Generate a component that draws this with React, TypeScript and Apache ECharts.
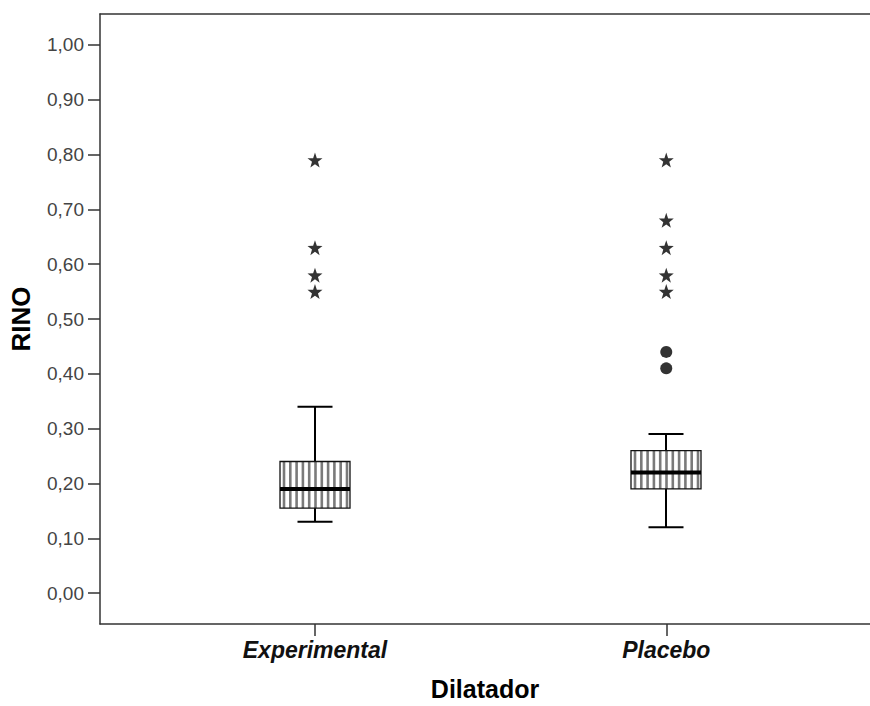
import React, { useEffect, useRef } from "react";
import * as echarts from "echarts";

const categories = ["Experimental", "Placebo"];
const categoryPositions = [1, 2];
// [low whisker, Q1, median, Q3, high whisker]
const boxValues = [
  [0.13, 0.155, 0.19, 0.24, 0.34],
  [0.12, 0.19, 0.22, 0.26, 0.29],
];
const extremeExperimental = [0.79, 0.63, 0.58, 0.55];
const extremePlacebo = [0.79, 0.68, 0.63, 0.58, 0.55];
const outliersPlacebo = [0.44, 0.41];
const yTicks = [0, 0.1, 0.2, 0.3, 0.4, 0.5, 0.6, 0.7, 0.8, 0.9, 1.0];

const STAR =
  "path://M50 0 L61.76 33.82 L97.55 34.55 L69.02 56.18 L79.39 90.45 L50 70 L20.61 90.45 L30.98 56.18 L2.45 34.55 L38.24 33.82 Z";

const FONT = "'Liberation Sans', Arial, sans-serif";

export default function App() {
  const ref = useRef<HTMLDivElement>(null);
  useEffect(() => {
    if (!ref.current) return;
    const chart = echarts.init(ref.current, undefined, { renderer: "svg" });

    const boxData = boxValues.map((b, i) => [categoryPositions[i], ...b]);

    const renderItem = (params: any, api: any) => {
      const x = api.value(0);
      const low = api.coord([x, api.value(1)]);
      const q1 = api.coord([x, api.value(2)]);
      const med = api.coord([x, api.value(3)]);
      const q3 = api.coord([x, api.value(4)]);
      const high = api.coord([x, api.value(5)]);
      const cx = Math.round(low[0]);
      const halfBox = 35;
      const halfCap = 17.5;
      const children: any[] = [];
      children.push({
        type: "line",
        shape: { x1: cx, y1: high[1], x2: cx, y2: q3[1] },
        style: { stroke: "#000", lineWidth: 2 },
      });
      children.push({
        type: "line",
        shape: { x1: cx, y1: q1[1], x2: cx, y2: low[1] },
        style: { stroke: "#000", lineWidth: 2 },
      });
      children.push({
        type: "line",
        shape: { x1: cx - halfCap, y1: high[1], x2: cx + halfCap, y2: high[1] },
        style: { stroke: "#000", lineWidth: 2 },
      });
      children.push({
        type: "line",
        shape: { x1: cx - halfCap, y1: low[1], x2: cx + halfCap, y2: low[1] },
        style: { stroke: "#000", lineWidth: 2 },
      });
      children.push({
        type: "rect",
        shape: { x: cx - halfBox, y: q3[1], width: halfBox * 2, height: q1[1] - q3[1] },
        style: { fill: "#fff", stroke: null },
      });
      for (let sx = cx - halfBox + 4; sx < cx + halfBox - 1; sx += 6.3) {
        children.push({
          type: "line",
          shape: { x1: sx, y1: q3[1], x2: sx, y2: q1[1] },
          style: { stroke: "#7a7a7a", lineWidth: 2.6 },
        });
      }
      children.push({
        type: "rect",
        shape: { x: cx - halfBox, y: q3[1], width: halfBox * 2, height: q1[1] - q3[1] },
        style: { fill: "none", stroke: "#111", lineWidth: 1.3 },
      });
      children.push({
        type: "line",
        shape: { x1: cx - halfBox, y1: med[1], x2: cx + halfBox, y2: med[1] },
        style: { stroke: "#000", lineWidth: 4 },
      });
      return { type: "group", children };
    };

    chart.setOption({
      animation: false,
      backgroundColor: "#fff",
      grid: { left: 100, top: 14, right: -4, bottom: 80, containLabel: false },
      xAxis: [
        {
          type: "value",
          min: 0.388,
          max: 2.58,
          position: "bottom",
          splitLine: { show: false },
          axisLine: { show: true, onZero: false, lineStyle: { color: "#333", width: 1.5 } },
          axisTick: {
            show: true,
            customValues: categoryPositions,
            length: 12,
            lineStyle: { color: "#333", width: 1.5 },
          },
          axisLabel: {
            customValues: categoryPositions,
            formatter: (v: number) => categories[categoryPositions.indexOf(Math.round(v))] ?? "",
            margin: 14,
            fontFamily: FONT,
            fontSize: 23,
            fontWeight: "bold",
            fontStyle: "italic",
            color: "#111",
          },
          name: "Dilatador",
          nameLocation: "middle",
          nameGap: 52,
          nameTextStyle: { fontFamily: FONT, fontSize: 25, fontWeight: "bold", color: "#000" },
        },
        {
          type: "value",
          min: 0.388,
          max: 2.58,
          position: "top",
          splitLine: { show: false },
          axisLine: { show: true, onZero: false, lineStyle: { color: "#333", width: 1.5 } },
          axisTick: { show: false },
          axisLabel: { show: false },
        },
      ],
      yAxis: {
        type: "value",
        min: -0.0564,
        max: 1.0564,
        splitLine: { show: false },
        axisLine: { show: true, onZero: false, lineStyle: { color: "#333", width: 1.5 } },
        axisTick: {
          show: true,
          customValues: yTicks,
          length: 12,
          lineStyle: { color: "#333", width: 1.5 },
        },
        axisLabel: {
          customValues: yTicks,
          formatter: (v: number) => v.toFixed(2).replace(".", ","),
          margin: 16,
          fontFamily: FONT,
          fontSize: 19,
          color: "#444",
        },
        name: "RINO",
        nameLocation: "middle",
        nameRotate: 90,
        nameGap: 66,
        nameTextStyle: { fontFamily: FONT, fontSize: 26, fontWeight: "bold", color: "#000" },
      },
      series: [
        {
          type: "custom",
          renderItem,
          data: boxData,
          encode: { x: 0, y: [1, 2, 3, 4, 5] },
          z: 2,
        },
        {
          type: "scatter",
          symbol: STAR,
          symbolSize: 15,
          itemStyle: { color: "#000" },
          data: [
            ...extremeExperimental.map((v) => [1, v]),
            ...extremePlacebo.map((v) => [2, v]),
          ],
          z: 3,
        },
        {
          type: "scatter",
          symbol: "circle",
          symbolSize: 12,
          itemStyle: { color: "#000" },
          data: outliersPlacebo.map((v) => [2, v]),
          z: 3,
        },
      ],
    });
    return () => chart.dispose();
  }, []);
  return (
    <div
      ref={ref}
      style={{ position: "absolute", left: 0, top: 0, width: 870, height: 706, background: "#fff" }}
    />
  );
}
